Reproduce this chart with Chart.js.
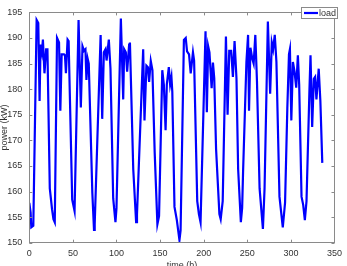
<!DOCTYPE html>
<html>
<head>
<meta charset="utf-8">
<script src="https://cdn.jsdelivr.net/npm/chart.js@4"></script>
<style>
  html, body { margin: 0; padding: 0; background: #fff; }
  #wrap { width: 347px; height: 266px; }
</style>
</head>
<body>
<div id="wrap"><canvas id="chartLoad" width="347" height="266"></canvas></div>
<script>
// Carga horaria (dos semanas)
const hours = [
  0, 1.5, 2.3, 4.6, 8.4, 10.3, 11.8, 12.9, 14.4, 15.6, 17.4, 19.3, 20.8, 23.5,
  26.1, 27.7, 29.2, 31.8, 34.1, 35.6, 37.1, 39.8, 40.9, 42.0, 43.9, 45.1, 49.2,
  51.9, 56.5, 59.1, 61.0, 62.8, 64.4, 65.5, 67.0, 68.2, 72.3, 74.2, 75.0, 81.8,
  83.6, 85.5, 87.4, 88.6, 91.2, 93.1, 96.2, 98.8, 100.0, 105.0, 107.7, 108.8,
  110.7, 112.2, 114.5, 115.4, 119.2, 122.5, 123.5, 130.6, 132.1, 134.3, 136.0,
  137.4, 139.3, 141.2, 143.8, 146.9, 148.8, 152.5, 154.3, 156.3, 157.7, 160.0,
  161.5, 163.0, 164.0, 166.5, 169.2, 172.2, 173.5, 177.3, 179.4, 180.9, 183.2,
  185.1, 187.7, 189.0, 192.6, 194.5, 196.4, 202.1, 203.6, 205.1, 206.6, 209.1,
  210.6, 212.1, 214.2, 218.0, 219.5, 221.8, 225.5, 227.4, 229.3, 231.5, 233.5,
  235.4, 237.6, 239.5, 242.6, 244.1, 245.2, 249.0, 250.9, 252.0, 253.6, 255.8,
  257.3, 259.2, 261.1, 264.1, 267.9, 269.8, 273.6, 276.2, 278.1, 279.6, 281.5,
  283.4, 286.9, 290.7, 293.3, 295.9, 297.8, 298.9, 300.5, 302.3, 304.2, 306.1,
  308.0, 309.5, 312.2, 314.1, 316.0, 317.9, 321.3, 322.5, 324.4, 326.3, 327.8,
  329.3, 331.9, 333.8, 336.0
];
const loadKW = [
  157.8, 155.9, 153.0, 153.3, 193.5, 192.9, 177.7, 188.7, 187.2, 189.7, 183.1, 187.8, 187.8, 160.6,
  156.5, 154.6, 154.0, 190.0, 189.1, 175.8, 186.8, 186.8, 186.6, 183.1, 189.7, 189.4, 158.4,
  156.2, 193.5, 176.4, 188.4, 187.5, 187.8, 181.8, 185.9, 185.0, 159.7, 152.5, 153.6, 190.6,
  174.2, 187.2, 187.8, 185.6, 189.7, 184.0, 158.7, 154.0, 156.8, 193.8, 178.0, 187.8,
  187.2, 183.4, 188.7, 189.1, 164.4, 154.0, 155.5, 187.8, 173.9, 184.6, 184.3,
  181.4, 185.5, 183.7, 167.6, 153.6, 155.2, 183.7, 180.9, 172.0, 180.9, 184.3,
  180.9, 182.4, 179.5, 157.0, 154.4, 150.5, 152.4, 189.6, 190.0, 187.4, 186.8,
  183.1, 187.2, 185.6, 158.1, 155.6, 154.0, 191.3, 175.5, 188.4, 187.2, 180.2,
  185.2, 182.1, 168.3, 155.6, 154.6, 158.1, 190.3, 175.0, 187.5, 187.5, 182.4,
  189.4, 182.1, 164.4, 154.0, 156.8, 164.1, 185.3, 190.6, 175.8, 188.1, 185.9,
  185.0, 190.6, 181.5, 160.6, 152.7, 160.6, 193.2, 179.1, 189.1, 187.8, 190.6,
  185.3, 159.0, 153.0, 157.8, 176.2, 186.8, 187.8, 173.9, 185.3, 183.4, 180.3,
  186.6, 180.9, 159.0, 157.4, 154.4, 158.1, 180.0, 186.6, 172.6, 182.0, 182.4,
  178.0, 184.0, 177.7, 165.6
];
const xTicks = [0, 50, 100, 150, 200, 250, 300, 350];
const yTicks = [150, 155, 160, 165, 170, 175, 180, 185, 190, 195];
const seriesName = 'load';
const xTitle = 'time (h)';
const yTitle = 'power (kW)';

const FONT = "'Liberation Sans', Arial, sans-serif";
const AXIS_COLOR = '#8a8a8a';
const LINE_COLOR = 'rgb(0,0,255)';

// Marco tipo MATLAB: caja, ticks hacia dentro, títulos y leyenda
const boxPlugin = {
    id: 'boxPlugin',
    afterDraw(chart) {
        const { ctx, chartArea: a, scales } = chart;
        ctx.save();
        ctx.strokeStyle = AXIS_COLOR;
        ctx.lineWidth = 1;
        ctx.strokeRect(Math.round(a.left) + 0.5, Math.round(a.top) + 0.5,
            Math.round(a.right - a.left), Math.round(a.bottom - a.top));

        const tl = 3;
        ctx.beginPath();
        xTicks.forEach(v => {
            const x = Math.round(scales.x.getPixelForValue(v)) + 0.5;
            ctx.moveTo(x, a.bottom); ctx.lineTo(x, a.bottom - tl);
            ctx.moveTo(x, a.top); ctx.lineTo(x, a.top + tl);
        });
        yTicks.forEach(v => {
            const y = Math.round(scales.y.getPixelForValue(v)) + 0.5;
            ctx.moveTo(a.left, y); ctx.lineTo(a.left + tl, y);
            ctx.moveTo(a.right, y); ctx.lineTo(a.right - tl, y);
        });
        ctx.stroke();

        // Títulos de ejes
        ctx.fillStyle = '#333';
        ctx.font = '9px ' + FONT;
        ctx.textAlign = 'center';
        ctx.textBaseline = 'top';
        ctx.fillText(xTitle, (a.left + a.right) / 2, 261);
        ctx.save();
        ctx.translate(6.5, (a.top + a.bottom) / 2);
        ctx.rotate(-Math.PI / 2);
        ctx.textBaseline = 'alphabetic';
        ctx.fillText(yTitle, 0, 0);
        ctx.restore();

        // Leyenda
        const lx = 301, ly = 7, lw = 36, lh = 11;
        ctx.fillStyle = '#fff';
        ctx.fillRect(lx, ly, lw, lh);
        ctx.strokeStyle = AXIS_COLOR;
        ctx.strokeRect(lx + 0.5, ly + 0.5, lw, lh);
        ctx.strokeStyle = LINE_COLOR;
        ctx.lineWidth = 2.2;
        ctx.beginPath();
        ctx.moveTo(lx + 3, ly + 6); ctx.lineTo(lx + 17, ly + 6);
        ctx.stroke();
        ctx.fillStyle = '#333';
        ctx.textAlign = 'left';
        ctx.textBaseline = 'middle';
        ctx.fillText(seriesName, lx + 18, ly + 6.5);
        ctx.restore();
    }
};

document.addEventListener('DOMContentLoaded', function() {
    Chart.defaults.font.family = FONT;
    Chart.defaults.font.size = 9;
    Chart.defaults.color = '#333';

    const points = hours.map((h, i) => ({ x: h, y: loadKW[i] }));

    new Chart(document.getElementById('chartLoad'), {
        type: 'line',
        data: {
            datasets: [{
                label: seriesName,
                data: points,
                borderColor: LINE_COLOR,
                borderWidth: 2.2,
                pointRadius: 0,
                tension: 0,
                fill: false
            }]
        },
        options: {
            responsive: false,
            animation: false,
            devicePixelRatio: 1,
            layout: { padding: { top: 5, right: 9, left: 0, bottom: 0 } },
            plugins: { legend: { display: false }, tooltip: { enabled: false } },
            scales: {
                x: {
                    type: 'linear',
                    min: 0, max: 350,
                    afterBuildTicks: s => { s.ticks = xTicks.map(v => ({ value: v })); },
                    afterFit: s => { s.height = 23.3; },
                    grid: { display: false, drawTicks: false },
                    border: { display: false },
                    ticks: { padding: 5, maxRotation: 0, autoSkip: false }
                },
                y: {
                    min: 150, max: 195,
                    afterBuildTicks: s => { s.ticks = yTicks.map(v => ({ value: v })); },
                    afterFit: s => { s.width = 29.3; },
                    grid: { display: false, drawTicks: false },
                    border: { display: false },
                    ticks: { padding: 7, autoSkip: false }
                }
            }
        },
        plugins: [boxPlugin]
    });
});
</script>
</body>
</html>
